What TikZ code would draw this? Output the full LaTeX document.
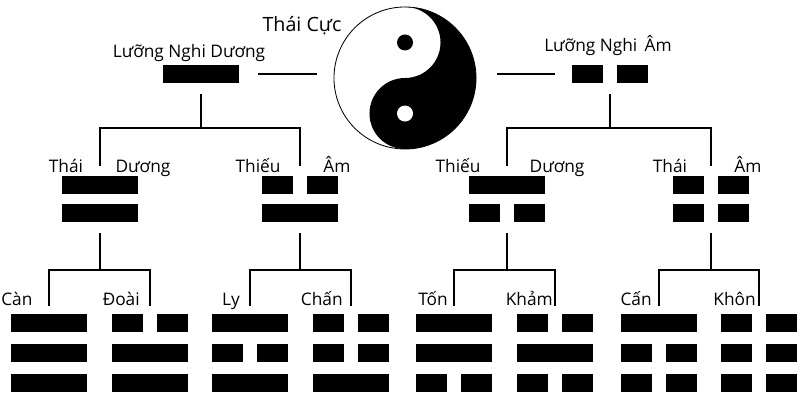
\documentclass[tikz,border=0pt]{standalone}
\usepackage{fontspec}
\setmainfont{Open Sans}
\begin{document}
\begin{tikzpicture}[x=0.025cm,y=-0.025cm,
  yang/.style={fill=black,minimum width=1.9cm,minimum height=0.43cm,inner sep=0pt},
  yin/.style={minimum width=1.9cm,minimum height=0.43cm,inner sep=0pt,
    path picture={\fill[black] (path picture bounding box.south west) rectangle ([xshift=-0.175cm]path picture bounding box.north);
      \fill[black] ([xshift=0.175cm]path picture bounding box.south) rectangle (path picture bounding box.north east);}},
  word/.style={font=\fontsize{12.3}{14}\selectfont,anchor=base,inner sep=0pt},
  branch/.style={line width=2.1pt}]
\useasboundingbox[fill=white] (0,0) rectangle (800,400);

% Thai Cuc
\node[circle,draw,line width=0.6pt,minimum size=3.55cm,inner sep=0pt] (taiji) at (405,78) {};
\fill[black] (taiji.center) ++(90:1.775cm) arc[start angle=90,end angle=-90,radius=1.775cm]
  arc[start angle=-90,end angle=-270,radius=0.8875cm]
  arc[start angle=-90,end angle=90,radius=0.8875cm] -- cycle;
\fill[black] (taiji.center) ++(0,0.8875cm) circle[radius=0.2cm];
\fill[white] (taiji.center) ++(0,-0.8875cm) circle[radius=0.2cm];
\node[word,font=\fontsize{14}{16}\selectfont] (thaicuc) at (302,32) {Thái Cực};

% Luong Nghi
\node[yang] (ld) at (201,74) {};
\node[yin] (la) at (610,74) {};
\node[word] at (189,58) {Lưỡng Nghi Dương};
\node[word] at (608,52) {Lưỡng Nghi\, Âm};
\draw[line width=1.6pt] ([xshift=0.475cm]ld.east) -- ([xshift=-0.425cm]taiji.west |- ld.east);
\draw[line width=1.6pt] ([xshift=0.525cm]taiji.east |- la.west) -- ([xshift=-0.425cm]la.west);

% Tu Tuong
\node[yang] (thaiduong1) at (100,185) {};
\node[yang] (thaiduong2) at (100,213) {};
\node[yin] (thieuam1) at (300,185) {};
\node[yang] (thieuam2) at (300,213) {};
\node[yang] (thieuduong1) at (507,185) {};
\node[yin] (thieuduong2) at (507,213) {};
\node[yin] (thaiam1) at (711,185) {};
\node[yin] (thaiam2) at (711,213) {};
\node[word] at (66,172) {Thái};
\node[word] at (143,172) {Dương};
\node[word] at (258,172) {Thiếu};
\node[word] at (337,172) {Âm};
\node[word] at (458,172) {Thiếu};
\node[word] at (557,172) {Dương};
\node[word] at (670,172) {Thái};
\node[word] at (748,172) {Âm};

\coordinate (jd) at (201,128);
\coordinate (ja) at (610,128);
\draw[branch] ([yshift=-0.275cm]ld.south) -- (jd);
\draw[branch] ([yshift=0.25cm]thaiduong1.north) |- (jd) -| ([yshift=0.25cm]thieuam1.north);
\draw[branch] ([yshift=-0.275cm]la.south) -- (ja);
\draw[branch] ([yshift=0.25cm]thieuduong1.north) |- (ja) -| ([yshift=0.25cm]thaiam1.north);

% Bat Quai
\node[yang] (can1) at (49,323) {};
\node[yang] (can2) at (49,353) {};
\node[yang] (can3) at (49,383) {};
\node[yin] (doai1) at (150,323) {};
\node[yang] (doai2) at (150,353) {};
\node[yang] (doai3) at (150,383) {};
\node[yang] (ly1) at (250,323) {};
\node[yin] (ly2) at (250,353) {};
\node[yang] (ly3) at (250,383) {};
\node[yin] (chan1) at (351,323) {};
\node[yin] (chan2) at (351,353) {};
\node[yang] (chan3) at (351,383) {};
\node[yang] (ton1) at (454,323) {};
\node[yang] (ton2) at (454,353) {};
\node[yin] (ton3) at (454,383) {};
\node[yin] (kham1) at (555,323) {};
\node[yang] (kham2) at (555,353) {};
\node[yin] (kham3) at (555,383) {};
\node[yang] (cen1) at (659,323) {};
\node[yin] (cen2) at (659,353) {};
\node[yin] (cen3) at (659,383) {};
\node[yin] (khon1) at (759,323) {};
\node[yin] (khon2) at (759,353) {};
\node[yin] (khon3) at (759,383) {};
\node[word,anchor=base west] at (1,305) {Càn};
\node[word,anchor=base east] at (140,305) {Đoài};
\node[word,anchor=base east] at (240,305) {Ly};
\node[word,anchor=base east] at (343,305) {Chấn};
\node[word,anchor=base east] at (448,305) {Tốn};
\node[word,anchor=base east] at (553,305) {Khảm};
\node[word,anchor=base east] at (652,305) {Cấn};
\node[word,anchor=base east] at (756,305) {Khôn};

\coordinate (j1) at (100,270);
\coordinate (j2) at (300,270);
\coordinate (j3) at (507,270);
\coordinate (j4) at (711,270);
\draw[branch] ([yshift=-0.275cm]thaiduong2.south) -- (j1);
\draw[branch] ([yshift=0.2cm]can1.north) |- (j1) -| ([yshift=0.2cm]doai1.north);
\draw[branch] ([yshift=-0.275cm]thieuam2.south) -- (j2);
\draw[branch] ([yshift=0.2cm]ly1.north) |- (j2) -| ([yshift=0.2cm]chan1.north);
\draw[branch] ([yshift=-0.275cm]thieuduong2.south) -- (j3);
\draw[branch] ([yshift=0.2cm]ton1.north) |- (j3) -| ([yshift=0.2cm]kham1.north);
\draw[branch] ([yshift=-0.275cm]thaiam2.south) -- (j4);
\draw[branch] ([yshift=0.2cm]cen1.north) |- (j4) -| ([yshift=0.2cm]khon1.north);
\end{tikzpicture}
\end{document}
